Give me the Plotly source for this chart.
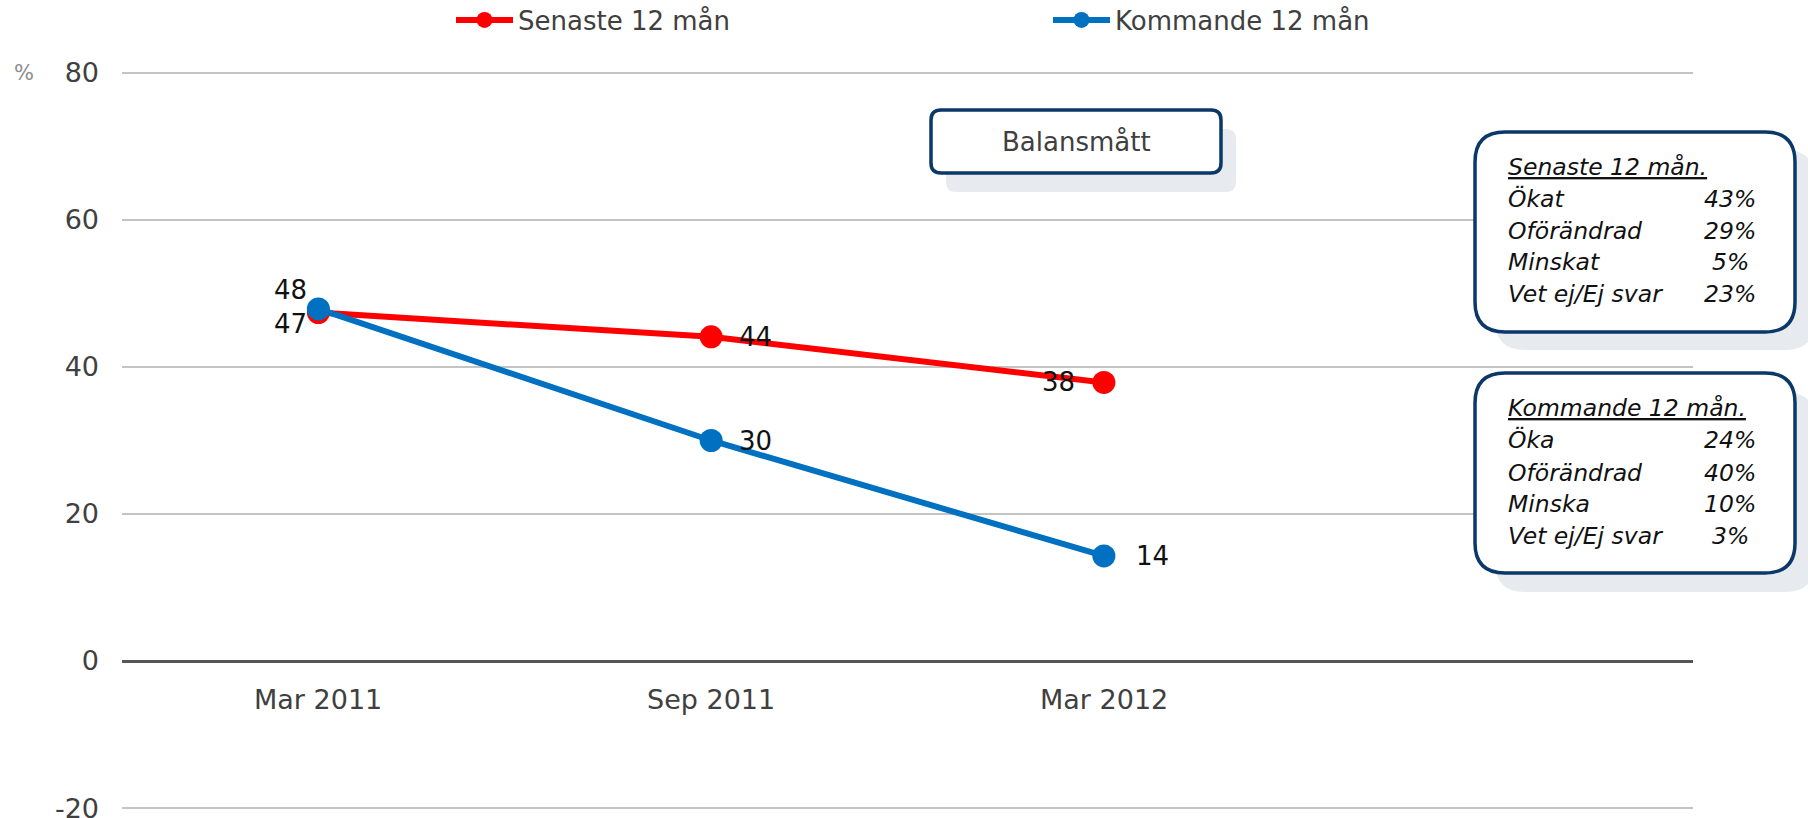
import plotly.graph_objects as go

# ---------------- data ----------------
categories = ["Mar 2011", "Sep 2011", "Mar 2012"]
senaste_values = [47.4, 44.1, 37.9]
kommande_values = [47.9, 30.0, 14.3]
senaste_labels = ["47", "44", "38"]
kommande_labels = ["48", "30", "14"]
series_names = ["Senaste 12 mån", "Kommande 12 mån"]
y_ticks = [-20, 0, 20, 40, 60, 80]
y_tick_labels = ["-20", "0", "20", "40", "60", "80"]

box_title = "Balansmått"
box1_header = "Senaste 12 mån."
box1_rows = ["Ökat", "Oförändrad", "Minskat", "Vet ej/Ej svar"]
box1_vals = ["43%", "29%", "5%", "23%"]
box2_header = "Kommande 12 mån."
box2_rows = ["Öka", "Oförändrad", "Minska", "Vet ej/Ej svar"]
box2_vals = ["24%", "40%", "10%", "3%"]

# ---------------- layout geometry ----------------
W, H = 1808, 818
ML, MR, MT, MB = 122, 115, 70, 7
PW, PH = W - ML - MR, H - MT - MB
FONT = "DejaVu Sans"
RED = "#ff0000"
BLUE = "#0070c0"
NAVY = "#0b3868"
SHADOW = "#e7eaee"
TXT = "#404040"


def X(px):
    return (px - ML) / PW


def Y(py):
    return (H - MB - py) / PH


def rrect(x0, y0, x1, y1, r):
    return (
        f"M {X(x0 + r)},{Y(y0)} L {X(x1 - r)},{Y(y0)} "
        f"Q {X(x1)},{Y(y0)} {X(x1)},{Y(y0 + r)} "
        f"L {X(x1)},{Y(y1 - r)} Q {X(x1)},{Y(y1)} {X(x1 - r)},{Y(y1)} "
        f"L {X(x0 + r)},{Y(y1)} Q {X(x0)},{Y(y1)} {X(x0)},{Y(y1 - r)} "
        f"L {X(x0)},{Y(y0 + r)} Q {X(x0)},{Y(y0)} {X(x0 + r)},{Y(y0)} Z"
    )


fig = go.Figure()
fig.add_trace(go.Scatter(
    x=categories, y=senaste_values, name=series_names[0], mode="lines+markers",
    line=dict(color=RED, width=6), marker=dict(color=RED, size=23),
    hoverinfo="skip"))
fig.add_trace(go.Scatter(
    x=categories, y=kommande_values, name=series_names[1], mode="lines+markers",
    line=dict(color=BLUE, width=6), marker=dict(color=BLUE, size=23),
    hoverinfo="skip"))

annotations = []
lab_font = dict(family=FONT, size=26, color="#111111")
# data labels
red_shift = [(-9, -11, "right"), (26, 0, "left"), (-27, 0, "right")]
blue_shift = [(-9, 19, "right"), (26, 0, "left"), (30, 0, "left")]
for i, c in enumerate(categories):
    dx, dy, anc = red_shift[i]
    annotations.append(dict(x=c, y=senaste_values[i], xref="x", yref="y", text=senaste_labels[i],
                            showarrow=False, xanchor=anc, yanchor="middle", xshift=dx, yshift=dy,
                            font=lab_font))
    dx, dy, anc = blue_shift[i]
    annotations.append(dict(x=c, y=kommande_values[i], xref="x", yref="y", text=kommande_labels[i],
                            showarrow=False, xanchor=anc, yanchor="middle", xshift=dx, yshift=dy,
                            font=lab_font))
# category labels under the zero line
for c in categories:
    annotations.append(dict(x=c, y=0, xref="x", yref="y", text=c, showarrow=False,
                            xanchor="center", yanchor="middle", yshift=-38,
                            font=dict(family=FONT, size=27, color=TXT)))
# % unit
annotations.append(dict(x=X(24), y=Y(73), xref="paper", yref="paper", text="%", showarrow=False,
                        xanchor="center", yanchor="middle",
                        font=dict(family=FONT, size=21, color="#8c8c8c")))
# Balansmått title
annotations.append(dict(x=X(1076), y=Y(142), xref="paper", yref="paper", text=box_title,
                        showarrow=False, xanchor="center", yanchor="middle",
                        font=dict(family=FONT, size=26, color=TXT)))

box_font = dict(family=FONT, size=23.5, color="#111111", style="italic")


def box_text(header, rows, vals, ys):
    annotations.append(dict(x=X(1506), y=Y(ys[0]), xref="paper", yref="paper",
                            text=f"<u>{header}</u>", showarrow=False, xanchor="left",
                            yanchor="middle", font=box_font))
    for k, (r, v) in enumerate(zip(rows, vals)):
        annotations.append(dict(x=X(1506), y=Y(ys[k + 1]), xref="paper", yref="paper", text=r,
                                showarrow=False, xanchor="left", yanchor="middle", font=box_font))
        annotations.append(dict(x=X(1730), y=Y(ys[k + 1]), xref="paper", yref="paper", text=v,
                                showarrow=False, xanchor="center", yanchor="middle", font=box_font))


box_text(box1_header, box1_rows, box1_vals, [167, 199, 231, 262, 294])
box_text(box2_header, box2_rows, box2_vals, [408, 440, 473, 504, 536])

shapes = []
for (x0, y0, x1, y1, r, sx, sy) in [(931, 110, 1221, 173, 10, 15, 19),
                                     (1475, 132, 1795, 332, 30, 20, 18),
                                     (1475, 373, 1795, 573, 30, 20, 19)]:
    shapes.append(dict(type="path", xref="paper", yref="paper",
                       path=rrect(x0 + sx, y0 + sy, x1 + sx, y1 + sy, r),
                       fillcolor=SHADOW, line=dict(width=0), layer="above"))
    shapes.append(dict(type="path", xref="paper", yref="paper",
                       path=rrect(x0, y0, x1, y1, r),
                       fillcolor="white", line=dict(color=NAVY, width=3.5), layer="above"))

fig.update_layout(
    width=W, height=H, autosize=False,
    margin=dict(l=ML, r=MR, t=MT, b=MB, autoexpand=False),
    paper_bgcolor="white", plot_bgcolor="white",
    font=dict(family=FONT, color=TXT),
    showlegend=True,
    legend=dict(orientation="h", x=X(451), y=Y(20), xanchor="left", yanchor="middle",
                font=dict(family=FONT, size=26, color=TXT), itemwidth=57,
                entrywidth=525, entrywidthmode="pixels", bgcolor="rgba(0,0,0,0)",
                tracegroupgap=0),
    xaxis=dict(type="category", range=[-0.5, 3.5], showgrid=False, showticklabels=False,
               zeroline=False, showline=False, ticks=""),
    yaxis=dict(range=[-20.4, 80.4], tickmode="array", tickvals=y_ticks, ticktext=y_tick_labels,
               showgrid=True, gridcolor="#c4c4c4", gridwidth=2,
               zeroline=True, zerolinecolor="#555555", zerolinewidth=2.5, showline=False,
               ticks="", ticklabelstandoff=22, ticklabeloverflow="allow",
               tickfont=dict(family=FONT, size=27, color=TXT)),
    annotations=annotations,
    shapes=shapes,
    hovermode=False,
)

fig.write_html("out.html", config={"displayModeBar": False},
               post_script="document.body.style.margin='0';document.body.style.overflow='hidden';")
